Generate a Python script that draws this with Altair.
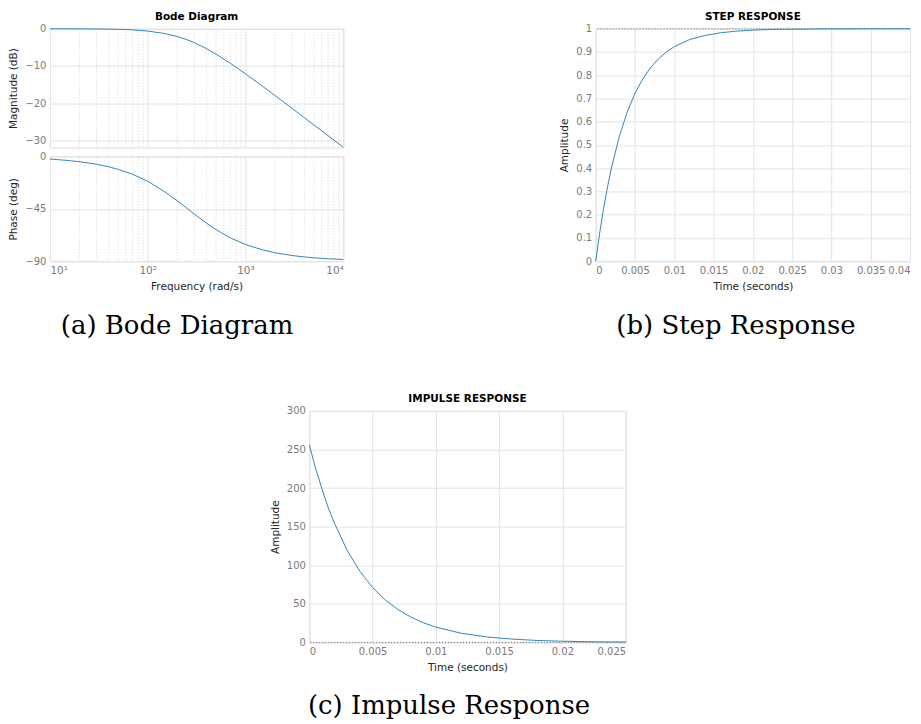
import altair as alt
import pandas as pd

BLUE = "#2f86c0"

# ---- Bode diagram data ----
bode_freq = [10, 15, 20, 30, 40, 50, 70, 100, 150, 200, 250, 300, 400, 500, 700,
             1000, 1500, 2000, 3000, 4000, 5000, 7000, 10000]
bode_mag = [0.0, -0.01, -0.03, -0.06, -0.1, -0.16, -0.31, -0.62, -1.29, -2.09, -2.91,
            -3.75, -5.37, -6.83, -9.28, -12.11, -15.48, -17.93, -21.41, -23.89,
            -25.83, -28.74, -31.84]
bode_phase = [-2.2, -3.4, -4.5, -6.7, -8.9, -11.1, -15.3, -21.3, -30.4, -38.0, -44.3,
              -49.5, -57.4, -62.9, -69.9, -75.6, -80.3, -82.7, -85.1, -86.3, -87.1,
              -87.9, -88.5]
bode_major = [10, 100, 1000, 10000]
bode_minor = [20, 30, 40, 50, 60, 70, 80, 90, 200, 300, 400, 500, 600, 700, 800, 900,
              2000, 3000, 4000, 5000, 6000, 7000, 8000, 9000]
mag_ticks = [0, -10, -20, -30]
phase_ticks = [0, -45, -90]

# ---- Step response ----
step_t = [0, 0.0005, 0.001, 0.0015, 0.002, 0.003, 0.004, 0.005, 0.006, 0.007, 0.008,
          0.009, 0.010, 0.012, 0.014, 0.016, 0.018, 0.020, 0.0225, 0.025, 0.03, 0.035, 0.04]
step_amp = [0, 0.12, 0.226, 0.319, 0.401, 0.536, 0.641, 0.722, 0.785, 0.833, 0.871,
            0.900, 0.923, 0.954, 0.972, 0.983, 0.990, 0.994, 0.997, 0.998, 0.9995, 1.0, 1.0]
step_final = [1]
step_xticks = [0, 0.005, 0.01, 0.015, 0.02, 0.025, 0.03, 0.035, 0.04]
step_yticks = [0, 0.1, 0.2, 0.3, 0.4, 0.5, 0.6, 0.7, 0.8, 0.9, 1]

# ---- Impulse response ----
imp_t = [0, 0.0005, 0.001, 0.0015, 0.002, 0.003, 0.004, 0.005, 0.006, 0.007, 0.008,
         0.009, 0.010, 0.012, 0.014, 0.016, 0.018, 0.020, 0.0225, 0.025]
imp_amp = [256, 225.3, 198.7, 174.3, 153.9, 118.9, 91.9, 71.1, 55.0, 42.6, 33.0, 25.5,
           19.8, 11.8, 7.1, 4.3, 2.5, 1.5, 0.8, 0.4]
imp_final = [0]
imp_xticks = [0, 0.005, 0.01, 0.015, 0.02, 0.025]
imp_yticks = [0, 50, 100, 150, 200, 250, 300]

captions = ["(a) Bode Diagram", "(b) Step Response", "(c) Impulse Response"]

bode_df = pd.DataFrame({"freq": bode_freq, "mag": bode_mag, "phase": bode_phase})
minor_df = pd.DataFrame({"freq": bode_minor})
step_df = pd.DataFrame({"t": step_t, "amp": step_amp})
step_ref_df = pd.DataFrame({"amp": step_final})
imp_df = pd.DataFrame({"t": imp_t, "amp": imp_amp})
imp_ref_df = pd.DataFrame({"amp": imp_final})

sup_expr = ("datum.value == 10 ? '10\u00b9' : datum.value == 100 ? '10\u00b2' : "
            "datum.value == 1000 ? '10\u00b3' : '10\u2074'")


def ax(**kw):
    base = dict(labelFont="DejaVu Sans", labelFontSize=10, labelColor="#7a7a7a",
                titleFont="DejaVu Sans", titleFontSize=10.5, titleColor="#262626",
                titleFontWeight="normal", gridColor="#e3e3e3", gridWidth=1,
                domain=False, ticks=False, labelPadding=4, titlePadding=6,
                labelOverlap=False)
    base.update(kw)
    return alt.Axis(**base)


def panel_title(text):
    return alt.TitleParams(text, font="DejaVu Sans", fontSize=10.5, fontWeight="bold",
                           color="#000000", offset=1, anchor="middle")


def caption(text, offset):
    return alt.TitleParams(text, orient="bottom", font="DejaVu Serif", fontSize=26,
                           fontWeight="normal", color="#000000", offset=offset,
                           anchor="middle")


def bode_x(show_labels):
    if show_labels:
        a = ax(values=bode_major, labelExpr=sup_expr, title="Frequency  (rad/s)",
               grid=True, labelFontSize=10.5)
    else:
        a = ax(values=bode_major, labels=False, title=None, grid=True,
               labelPadding=0, titlePadding=0)
    return alt.X("freq:Q", scale=alt.Scale(type="log", domain=[10, 10000], nice=False),
                 axis=a)


def minor_layer(show_labels):
    return alt.Chart(minor_df).mark_rule(color="#d6d6d6", strokeDash=[1, 2],
                                         strokeWidth=1).encode(x=bode_x(show_labels))


mag_line = alt.Chart(bode_df).mark_line(color=BLUE, strokeWidth=1).encode(
    x=bode_x(False),
    y=alt.Y("mag:Q", scale=alt.Scale(domain=[-31.9, 0], nice=False, zero=False),
            axis=ax(values=mag_ticks, title="Magnitude (dB)")),
)
mag = alt.layer(minor_layer(False), mag_line).properties(
    width=294, height=119, title=panel_title("Bode Diagram"))

phase_line = alt.Chart(bode_df).mark_line(color=BLUE, strokeWidth=1).encode(
    x=bode_x(True),
    y=alt.Y("phase:Q", scale=alt.Scale(domain=[-90, 0], nice=False),
            axis=ax(values=phase_ticks, title="Phase (deg)")),
)
phase = alt.layer(minor_layer(True), phase_line).properties(width=294, height=105)

left_col = alt.vconcat(mag, phase, spacing=0).properties(title=caption(captions[0], 20))

# Step response
step_x = alt.X("t:Q", scale=alt.Scale(domain=[0, 0.04], nice=False),
               axis=ax(values=step_xticks, format="~g", title="Time (seconds)"))
step_y = alt.Y("amp:Q", scale=alt.Scale(domain=[0, 1], nice=False),
               axis=ax(values=step_yticks, format="~g", title="Amplitude"))
step_line = alt.Chart(step_df).mark_line(color=BLUE, strokeWidth=1).encode(x=step_x, y=step_y)
step_ref = alt.Chart(step_ref_df).mark_rule(color="#666666", strokeDash=[1, 2],
                                            strokeWidth=1).encode(y=step_y)
step = alt.layer(step_ref, step_line).properties(
    width=315, height=233, title=panel_title("STEP RESPONSE"))
step_col = alt.vconcat(step).properties(title=caption(captions[1], 21))

top = alt.hconcat(left_col, step_col, spacing=213)

# Impulse response
imp_x = alt.X("t:Q", scale=alt.Scale(domain=[0, 0.025], nice=False),
              axis=ax(values=imp_xticks, format="~g", title="Time (seconds)"))
imp_y = alt.Y("amp:Q", scale=alt.Scale(domain=[0, 300], nice=False),
              axis=ax(values=imp_yticks, format="d", title="Amplitude"))
imp_line = alt.Chart(imp_df).mark_line(color=BLUE, strokeWidth=1).encode(x=imp_x, y=imp_y)
imp_ref = alt.Chart(imp_ref_df).mark_rule(color="#666666", strokeDash=[1, 2],
                                          strokeWidth=1).encode(y=imp_y)
imp = alt.layer(imp_ref, imp_line).properties(
    width=317, height=232, title=panel_title("IMPULSE RESPONSE"))
imp_col = alt.vconcat(imp).properties(title=caption(captions[2], 20))

spacer = alt.Chart(pd.DataFrame({"v": [0]})).mark_point(opacity=0).encode(
    x=alt.value(0), y=alt.value(0)).properties(
    width=219, height=10, view=alt.ViewConfig(stroke="transparent"))

bottom = alt.hconcat(spacer, imp_col, spacing=0)

chart = alt.vconcat(top, bottom, spacing=55).properties(
    padding={"left": 0, "top": 3, "right": 0, "bottom": 0}
).configure_view(stroke="#8a8a8a", strokeWidth=1).configure(background="white")

chart.save("out.html", embed_options={"renderer": "svg", "actions": False})
